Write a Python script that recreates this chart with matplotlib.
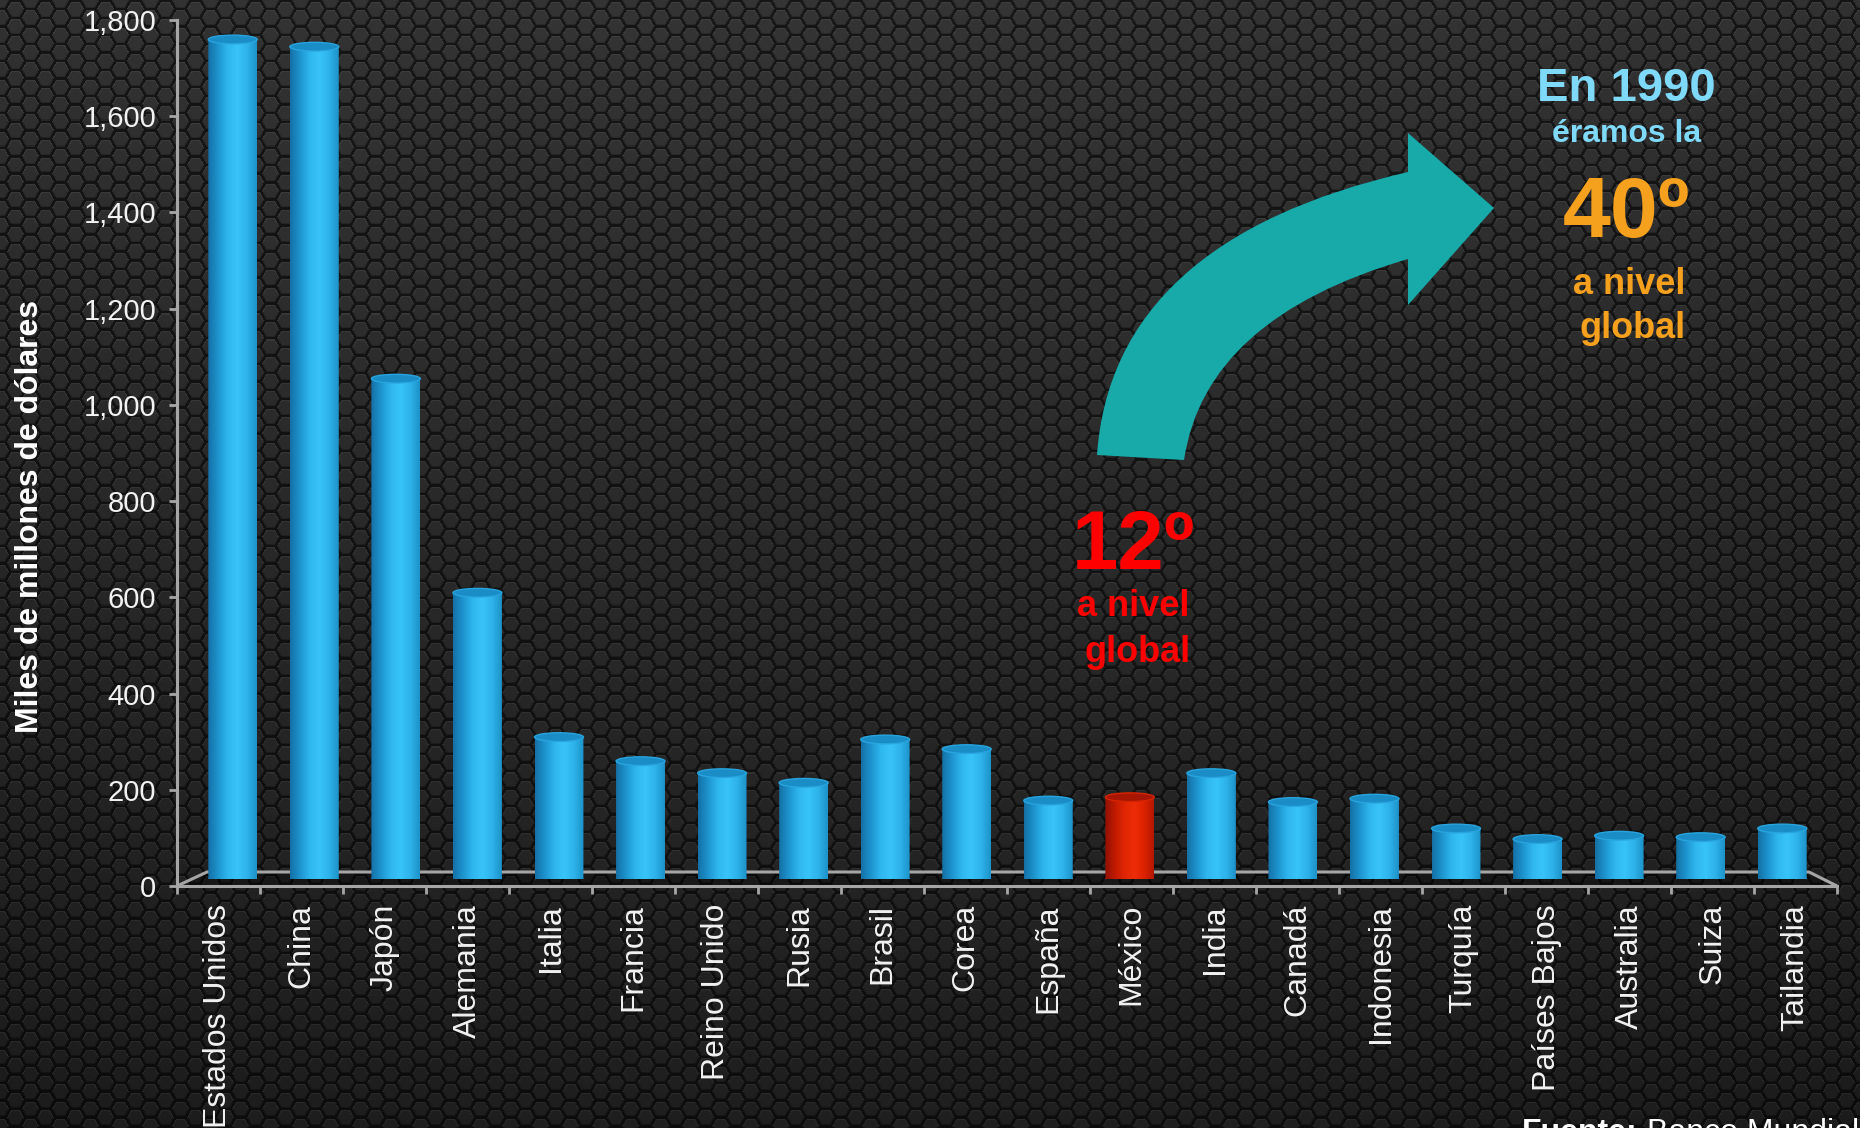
import numpy as np
import matplotlib
matplotlib.use('Agg')
import matplotlib.pyplot as plt
from matplotlib.colors import LinearSegmentedColormap
from matplotlib.path import Path
from matplotlib.patches import PathPatch, Ellipse, Polygon
from matplotlib.lines import Line2D
from matplotlib.ticker import FuncFormatter, MultipleLocator, FixedLocator

plt.rcParams['font.family'] = ['Liberation Sans', 'DejaVu Sans']

# valor agregado por país, miles de millones de dólares
paises = ['Estados Unidos', 'China', 'Japón', 'Alemania', 'Italia', 'Francia',
          'Reino Unido', 'Rusia', 'Brasil', 'Corea', 'España', 'México',
          'India', 'Canadá', 'Indonesia', 'Turquía', 'Países Bajos',
          'Australia', 'Suiza', 'Tailandia']
valores = [1745, 1730, 1040, 595, 295, 245, 220, 200, 290, 270, 163, 170,
           220, 160, 167, 105, 83, 90, 87, 105]
destacado = 'México'
y_ticks = list(range(0, 1801, 200))

W, H = 1860, 1128


def fx(px):
    return px / W


def fy(py):
    return 1 - py / H


fig = plt.figure(figsize=(W / 100, H / 100), dpi=100)

# ---------- fondo de hexágonos ----------
yy, xx = np.mgrid[0:H, 0:W].astype(float)
R = 10.0
s3 = np.sqrt(3)


def centro_cercano(ox, oy):
    cx = np.round((xx - ox) / (3 * R)) * 3 * R + ox
    cy = np.round((yy - oy) / (s3 * R)) * s3 * R + oy
    return cx, cy


ax1, ay1 = centro_cercano(0, 0)
ax2, ay2 = centro_cercano(1.5 * R, s3 * R / 2)
d1 = (xx - ax1) ** 2 + (yy - ay1) ** 2
d2 = (xx - ax2) ** 2 + (yy - ay2) ** 2
usa1 = d1 <= d2
dx = np.where(usa1, xx - ax1, xx - ax2)
dy = np.where(usa1, yy - ay1, yy - ay2)
r_in = s3 / 2 * R
hexn = np.maximum(np.abs(dy), np.abs(dx) * s3 / 2 + np.abs(dy) / 2) / r_in

base = 0.205 - 0.085 * (yy / H) - 0.05 * ((xx - W * 0.5) / W) ** 2
tex = base.copy()
borde = (hexn > 0.74) & (hexn <= 0.86)
tex[borde & (dy < 0)] += 0.045
tex[borde & (dy >= 0)] -= 0.035
tex[hexn > 0.86] = base[hexn > 0.86] * 0.42
tex = np.clip(tex, 0, 1)
img = np.dstack([tex, tex, tex])

ax_bg = fig.add_axes([0, 0, 1, 1], zorder=-10)
ax_bg.imshow(img, aspect='auto', interpolation='bilinear')
ax_bg.axis('off')

# ---------- piso (línea trasera y sombra) ----------
piso = [(177, 886), (207, 872), (1809, 872), (1837, 886)]
sombra = Polygon([(fx(a), fy(b)) for a, b in piso], closed=True,
                 transform=fig.transFigure, facecolor='black', alpha=0.3,
                 edgecolor='none', zorder=-6)
fig.add_artist(sombra)
fig.add_artist(Line2D([fx(a) for a, b in piso], [fy(b) for a, b in piso],
                      transform=fig.transFigure, color='#a6a6a6', lw=2.2,
                      zorder=-5, solid_capstyle='butt'))

# ---------- barras cilíndricas ----------
ax_b = fig.add_axes([fx(192), fy(879), 1631 / W, 866 / H], zorder=0)
ax_b.set_facecolor('none')

cmap_azul = LinearSegmentedColormap.from_list(
    'azul', ['#1470a6', '#1d93cd', '#2fb6ee', '#38c4f8', '#2eb3ea', '#1c92c9'])
cmap_rojo = LinearSegmentedColormap.from_list(
    'rojo', ['#8e1200', '#c01a00', '#e02604', '#ee2c08', '#dc2200', '#b21700'])

x = np.arange(len(paises))
barras = ax_b.bar(x, valores, width=0.6, color='none', edgecolor='none')

eh = 9.0  # semieje vertical de las tapas, en unidades de datos
grad = np.linspace(0, 1, 256).reshape(1, -1)
t = np.linspace(0, 2 * np.pi, 80)

for nombre, rect in zip(paises, barras):
    x0 = rect.get_x()
    w = rect.get_width()
    h = rect.get_height()
    xc = x0 + w / 2
    rojo = nombre == destacado
    cm = cmap_rojo if rojo else cmap_azul

    caja = Path([(x0, 0), (x0 + w, 0), (x0 + w, h), (x0, h), (x0, 0)],
                [Path.MOVETO, Path.LINETO, Path.LINETO, Path.LINETO, Path.CLOSEPOLY])
    elip_inf = Path(np.column_stack([xc + w / 2 * np.cos(t), eh * np.sin(t)]))
    forma = Path.make_compound_path(caja, elip_inf)
    pp = PathPatch(forma, transform=ax_b.transData, facecolor='none', edgecolor='none')
    ax_b.add_patch(pp)

    im = ax_b.imshow(grad, cmap=cm, extent=[x0, x0 + w, -eh, h + eh],
                     aspect='auto', zorder=2, interpolation='bilinear')
    im.set_clip_path(pp)

    tapa = Ellipse((xc, h), w, 2 * eh, facecolor='#a61600' if rojo else '#1a8cc6',
                   edgecolor='#d62400' if rojo else '#28a4de', lw=1.0, zorder=3)
    ax_b.add_patch(tapa)

ax_b.set_xlim(-0.5, len(paises) - 0.5)
ax_b.set_ylim(0, 1800)
ax_b.axis('off')

# ---------- ejes frontales ----------
ax = fig.add_axes([fx(177), fy(886), 1660 / W, 866 / H], zorder=1)
ax.set_facecolor('none')
ax.set_xlim(-0.5, len(paises) - 0.5)
ax.set_ylim(0, 1800)
for lado in ['top', 'right']:
    ax.spines[lado].set_visible(False)
for lado in ['left', 'bottom']:
    ax.spines[lado].set_color('#a6a6a6')
    ax.spines[lado].set_linewidth(2.2)

ax.yaxis.set_major_locator(FixedLocator(y_ticks))
ax.yaxis.set_major_formatter(FuncFormatter(lambda v, p: f'{int(v):,}'))
ax.tick_params(axis='y', colors='#a6a6a6', labelcolor='#f2f2f2', labelsize=21,
               length=6, width=2, pad=9)

ax.xaxis.set_major_locator(MultipleLocator(1, offset=0.5))
ax.xaxis.set_major_formatter(FuncFormatter(lambda v, p: ''))
ax.set_xticks(x, minor=True)
ax.set_xticklabels(paises, minor=True, rotation=90, va='top', ha='center')
ax.tick_params(axis='x', which='major', colors='#a6a6a6', length=6, width=2)
ax.tick_params(axis='x', which='minor', length=0, labelsize=23,
               labelcolor='#f2f2f2', pad=13)

fig.text(fx(30), fy(516), 'Miles de millones de dólares', rotation=90,
         ha='center', va='center', color='white', fontsize=23, fontweight='bold')

# ---------- flecha curva ----------
pts = [(1097, 455), (1112, 240), (1408, 172), (1408, 133), (1494, 208),
       (1408, 305), (1408, 259), (1205, 318), (1184, 460), (1097, 455)]
codigos = [Path.MOVETO, Path.CURVE3, Path.CURVE3, Path.LINETO, Path.LINETO,
           Path.LINETO, Path.LINETO, Path.CURVE3, Path.CURVE3, Path.CLOSEPOLY]
flecha = PathPatch(Path([(fx(a), fy(b)) for a, b in pts], codigos),
                   transform=fig.transFigure, facecolor='#18a9a9', edgecolor='none',
                   zorder=5)
fig.add_artist(flecha)

# ---------- textos ----------
rojo_txt = '#ff0000'
fig.text(fx(1133), fy(547), '12º', color=rojo_txt, fontsize=60, fontweight='bold',
         ha='center', va='center')
fig.text(fx(1133), fy(607), 'a nivel', color=rojo_txt, fontsize=26, fontweight='bold',
         ha='center', va='center')
fig.text(fx(1138), fy(652), 'global', color=rojo_txt, fontsize=26, fontweight='bold',
         ha='center', va='center')

azul_txt = '#7fd9f9'
naranja = '#f6a11d'
fig.text(fx(1626), fy(89), 'En 1990', color=azul_txt, fontsize=34, fontweight='bold',
         ha='center', va='center')
fig.text(fx(1627), fy(134), 'éramos la', color=azul_txt, fontsize=23, fontweight='bold',
         ha='center', va='center')
fig.text(fx(1626), fy(215), '40º', color=naranja, fontsize=62, fontweight='bold',
         ha='center', va='center')
fig.text(fx(1629), fy(284), 'a nivel', color=naranja, fontsize=26, fontweight='bold',
         ha='center', va='center')
fig.text(fx(1633), fy(328), 'global', color=naranja, fontsize=26, fontweight='bold',
         ha='center', va='center')

fig.text(fx(1522), fy(1141), 'Fuente:', color='white', fontsize=23,
         fontweight='bold', ha='left', va='baseline')
fig.text(fx(1647), fy(1141), 'Banco Mundial', color='white', fontsize=23,
         ha='left', va='baseline')

fig.savefig('out.png', dpi=100)
